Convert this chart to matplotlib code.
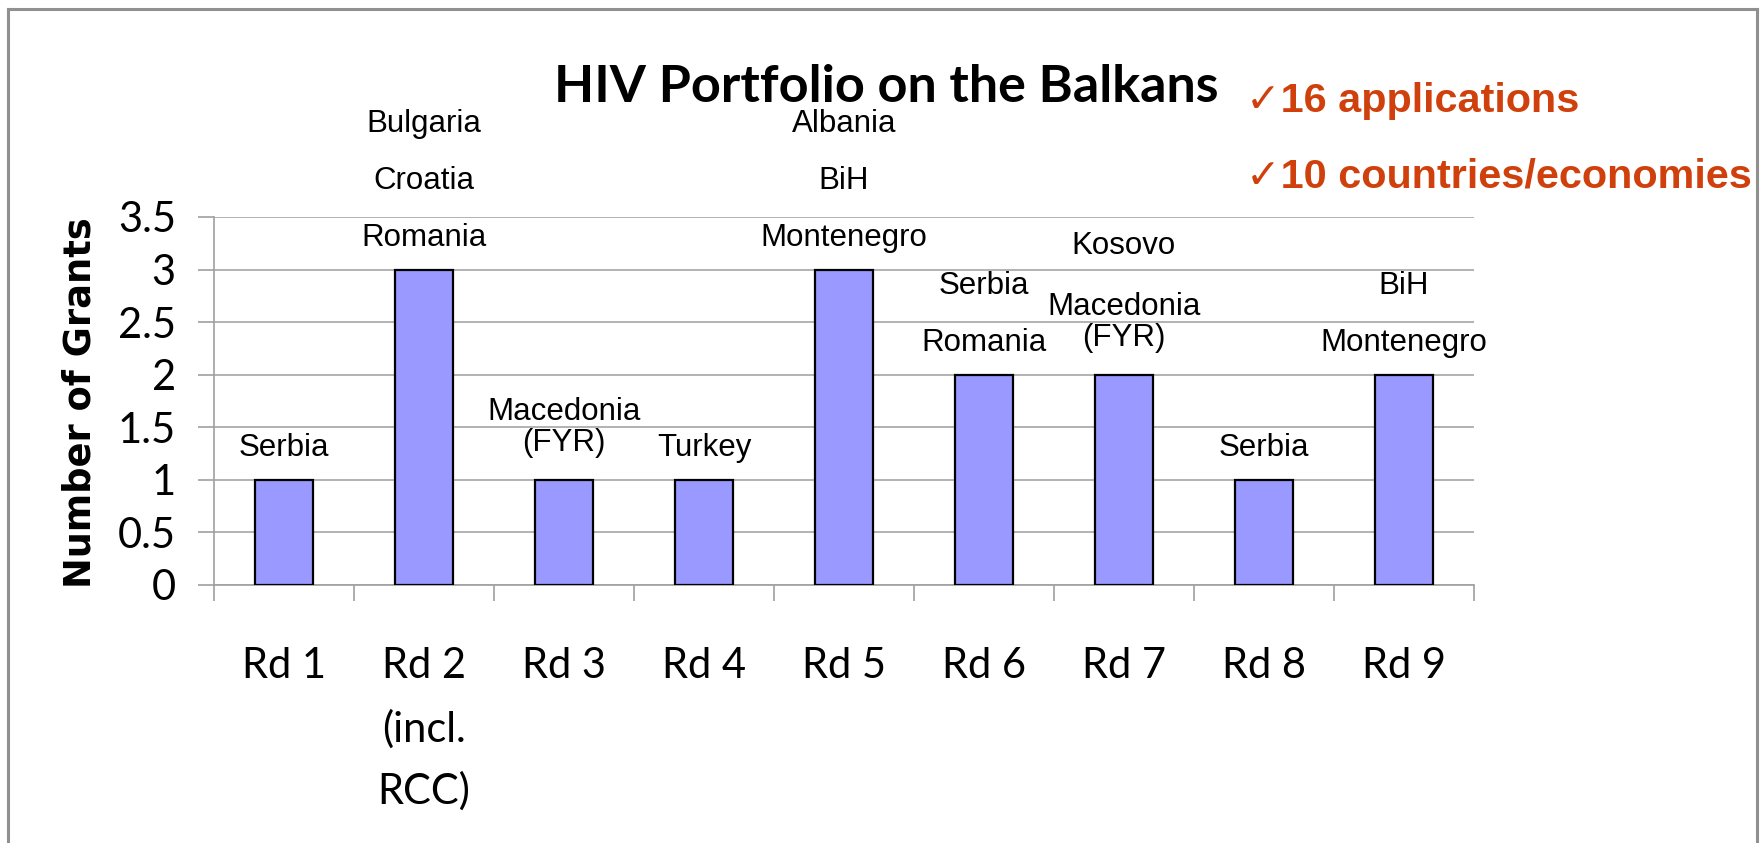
import numpy as np
import matplotlib.pyplot as plt
from matplotlib.lines import Line2D

# data
rounds = ['Rd 1', 'Rd 2\n(incl.\nRCC)', 'Rd 3', 'Rd 4', 'Rd 5', 'Rd 6', 'Rd 7', 'Rd 8', 'Rd 9']
grants = [1, 3, 1, 1, 3, 2, 2, 1, 2]
# countries per round, listed from the bar upwards
countries = [
    ['Serbia'],
    ['Romania', 'Croatia', 'Bulgaria'],
    ['Macedonia\n(FYR)'],
    ['Turkey'],
    ['Montenegro', 'BiH', 'Albania'],
    ['Romania', 'Serbia'],
    ['Macedonia\n(FYR)', 'Kosovo'],
    ['Serbia'],
    ['Montenegro', 'BiH'],
]
yticks = [0, 0.5, 1, 1.5, 2, 2.5, 3, 3.5]
ytick_labels = ['0', '0.5', '1', '1.5', '2', '2.5', '3', '3.5']
notes = ['\u271316 applications', '\u271310 countries/economies']

W, H = 1762, 843
fig = plt.figure(figsize=(W / 100, H / 100), dpi=100)
ax = fig.add_axes([214 / W, 1 - 585 / H, (1474 - 214) / W, (585 - 217) / H])

x = np.arange(len(rounds))
ax.bar(x, grants, width=0.42, color='#9999ff', edgecolor='black', linewidth=1.6, zorder=3)

ax.set_xlim(-0.5, len(rounds) - 0.5)
ax.set_ylim(0, 3.5)
ax.set_yticks(yticks, ytick_labels)
ax.set_xticks(x, rounds)
ax.set_xticks(np.arange(len(rounds) + 1) - 0.5, minor=True)
ax.tick_params(axis='x', which='major', length=0, pad=45, labelsize=30)
ax.tick_params(axis='x', which='minor', length=11.5, width=1.2, color='#a0a0a0')
ax.tick_params(axis='y', length=11.5, width=1.2, color='#a0a0a0', pad=16, labelsize=30)
for lab in ax.get_xticklabels() + ax.get_yticklabels():
    lab.set_family('Lato')
    lab.set_linespacing(1.72)
ax.grid(axis='y', color='#a6a6a6', linewidth=1.2, zorder=0)
ax.set_axisbelow(True)
for s in ['top', 'right']:
    ax.spines[s].set_visible(False)
for s in ['left', 'bottom']:
    ax.spines[s].set_color('#a0a0a0')
    ax.spines[s].set_linewidth(1.2)

# stacked country labels above each bar
for xi, g, labs in zip(x, grants, countries):
    off = 32
    for lab in labs:
        n = lab.count('\n')
        c = off + n * 20
        ax.annotate(lab, (xi, g), xytext=(0, c), textcoords='offset pixels',
                    ha='center', va='center', fontsize=22.5, family='Liberation Sans',
                    linespacing=1.05, annotation_clip=False)
        off = c + n * 20 + 57

ax.set_ylabel('Number of Grants', fontsize=26.5, fontweight='bold', family='DejaVu Sans')
ax.yaxis.set_label_coords(99 / W, 1 - 403 / H, transform=fig.transFigure)

fig.text(886 / W, 1 - 87 / H, 'HIV Portfolio on the Balkans', ha='center', va='center',
         fontsize=37.5, fontweight='bold', family='Lato')

for i, t in enumerate(notes):
    fig.text(1246 / W, 1 - (112 + i * 76) / H, t, ha='left', va='baseline',
             fontsize=29.8, fontweight='bold', color='#d0400c',
             family=['Liberation Sans', 'DejaVu Sans'])

# slide frame
frame_kw = dict(color='#909090', linewidth=2.2, transform=fig.transFigure)
fig.add_artist(Line2D([8 / W, 8 / W], [0, 1 - 9 / H], **frame_kw))
fig.add_artist(Line2D([8 / W, 1757 / W], [1 - 9 / H, 1 - 9 / H], **frame_kw))
fig.add_artist(Line2D([1757 / W, 1757 / W], [0, 1 - 9 / H], **frame_kw))

fig.savefig('out.png', dpi=100, facecolor='white')
